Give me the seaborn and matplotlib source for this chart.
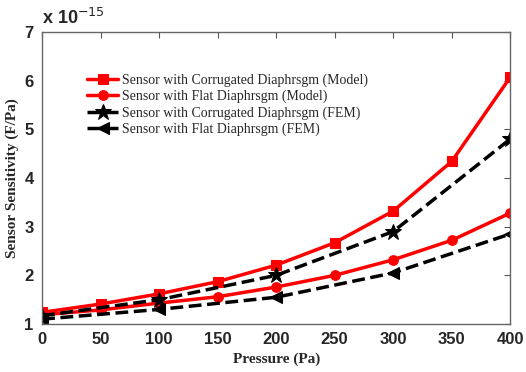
import matplotlib
matplotlib.use("Agg")
import matplotlib.pyplot as plt
import seaborn as sns
import pandas as pd

# pressure points (Pa) and sensitivities (x 1e-15 F/Pa)
pressure_model = [0, 50, 100, 150, 200, 250, 300, 350, 400]
corr_model = [1.24, 1.41, 1.62, 1.87, 2.21, 2.67, 3.32, 4.34, 6.07]
flat_model = [1.19, 1.29, 1.43, 1.56, 1.76, 2.0, 2.32, 2.72, 3.28]

pressure_fem = [0, 100, 200, 300, 400]
corr_fem = [1.17, 1.5, 2.0, 2.9, 4.8]
flat_fem = [1.1, 1.3, 1.55, 2.05, 2.85]

labels = ["Sensor with Corrugated Diaphrsgm (Model)",
          "Sensor with Flat Diaphrsgm (Model)",
          "Sensor with Corrugated Diaphrsgm (FEM)",
          "Sensor with Flat Diaphrsgm (FEM)"]

sns.set_style("white")
plt.rcParams["font.family"] = ["Liberation Sans", "DejaVu Sans"]

fig = plt.figure(figsize=(5.26, 3.72), dpi=100)
ax = fig.add_axes([0.08, 0.129, 0.89, 0.785])

series = [
    (pressure_model, corr_model, "red", "-", "s", 6.5),
    (pressure_model, flat_model, "red", "-", "o", 7),
    (pressure_fem, corr_fem, "black", "--", "*", 12),
    (pressure_fem, flat_fem, "black", "--", "<", 8),
]
for (x, y, c, ls, m, ms), lab in zip(series, labels):
    df = pd.DataFrame({"p": x, "s": y})
    sns.lineplot(data=df, x="p", y="s", ax=ax, color=c, linestyle=ls,
                 marker=m, markersize=ms, markeredgecolor=c,
                 linewidth=2.5, label=lab)

ax.set_xlim(0, 400)
ax.set_ylim(1, 7)
ax.set_xticks(range(0, 401, 50))
ax.set_yticks(range(1, 8))
ax.tick_params(direction="in", length=4, top=True, right=True,
               labelsize=12, pad=6, color="#555555")
for t in ax.get_xticklabels() + ax.get_yticklabels():
    t.set_fontweight("bold")
for s in ax.spines.values():
    s.set_color("#666666")
    s.set_linewidth(1)

ax.set_xlabel("Pressure (Pa)", family="Liberation Serif", fontweight="bold", fontsize=11)
ax.set_ylabel("Sensor Sensitivity (F/Pa)", family="Liberation Serif", fontweight="bold", fontsize=11)
ax.text(0.0, 1.012, "x 10$^{-15}$", transform=ax.transAxes, fontsize=13,
        fontweight="bold", ha="left", va="bottom")

leg = ax.legend(loc="upper left", bbox_to_anchor=(0.07, 0.9), frameon=False,
                prop={"family": "Liberation Serif", "size": 10},
                handlelength=2.2, labelspacing=0.2, handletextpad=0.3)

fig.savefig("out.png", dpi=100)
